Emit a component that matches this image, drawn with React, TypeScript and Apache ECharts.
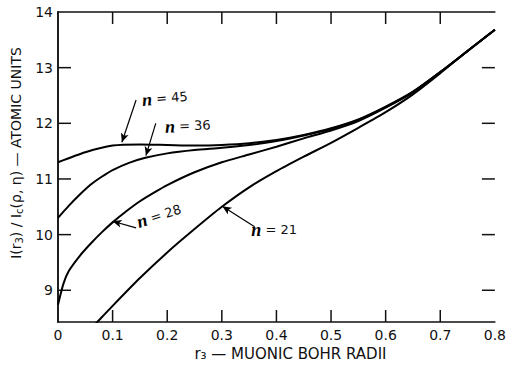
import React, { useEffect, useRef } from "react";
import * as echarts from "echarts";

// Data
const yTickLabels = [9, 10, 11, 12, 13, 14];
const xInnerTicks = [0.1, 0.2, 0.3, 0.4, 0.5, 0.6, 0.7];
const yInnerTicks = [9, 10, 11, 12, 13];
const X_MIN = 0, X_MAX = 0.8, Y_MIN = 8.43, Y_MAX = 14;

const n45: [number, number][] = [
  [0, 11.3], [0.05, 11.48], [0.1, 11.6], [0.15, 11.62], [0.2, 11.61],
  [0.25, 11.6], [0.3, 11.61], [0.35, 11.64], [0.4, 11.7], [0.45, 11.79],
  [0.5, 11.91], [0.55, 12.07], [0.6, 12.3], [0.65, 12.57], [0.7, 12.92],
  [0.75, 13.3], [0.8, 13.68],
];
const n36: [number, number][] = [
  [0, 10.3], [0.02, 10.52], [0.04, 10.72], [0.06, 10.9], [0.08, 11.04],
  [0.1, 11.16], [0.13, 11.29], [0.16, 11.38], [0.2, 11.46], [0.25, 11.52],
  [0.3, 11.56], [0.35, 11.61], [0.4, 11.68], [0.45, 11.78], [0.5, 11.9],
  [0.55, 12.06], [0.6, 12.29], [0.65, 12.56], [0.7, 12.92], [0.75, 13.3], [0.8, 13.68],
];
const n28: [number, number][] = [
  [0, 8.74], [0.01, 9.12], [0.02, 9.35], [0.04, 9.62], [0.06, 9.84],
  [0.08, 10.04], [0.1, 10.22], [0.125, 10.42], [0.15, 10.6], [0.175, 10.75],
  [0.2, 10.89], [0.25, 11.12], [0.3, 11.3], [0.35, 11.44], [0.4, 11.58],
  [0.45, 11.73], [0.5, 11.87], [0.55, 12.04], [0.6, 12.28], [0.65, 12.56],
  [0.7, 12.92], [0.75, 13.3], [0.8, 13.68],
];
const n21: [number, number][] = [
  [0.04, 8.1], [0.07, 8.41], [0.1, 8.72], [0.15, 9.22], [0.2, 9.68],
  [0.25, 10.1], [0.3, 10.5], [0.35, 10.85], [0.4, 11.14], [0.45, 11.4],
  [0.5, 11.65], [0.55, 11.92], [0.6, 12.2], [0.65, 12.52], [0.7, 12.9],
  [0.75, 13.3], [0.8, 13.68],
];

// arrows: [from, to] in data coordinates
const arrows: [[number, number], [number, number]][] = [
  [[0.143, 12.42], [0.117, 11.66]],
  [[0.179, 12.0], [0.161, 11.42]],
  [[0.143, 10.12], [0.1, 10.24]],
  [[0.36, 10.14], [0.301, 10.51]],
];

// label anchors in data coordinates, with value text and rotation
const labelNames = ["45", "36", "28", "21"];
const labelAnchors: [number, number][] = [
  [0.154, 12.42], [0.196, 11.94], [0.145, 10.22], [0.354, 10.09],
];
const labelRot = [0.08, 0.04, 0.3, 0];

export default function App() {
  const ref = useRef<HTMLDivElement>(null);
  useEffect(() => {
    if (!ref.current) return;
    const chart = echarts.init(ref.current, undefined, { renderer: "svg" });
    const mk = (name: string, data: [number, number][]) => ({
      name,
      type: "line",
      data,
      smooth: 0.25,
      showSymbol: false,
      clip: true,
      lineStyle: { color: "#000", width: 2 },
      itemStyle: { color: "#000" },
    });
    const axisText = { color: "#111", fontFamily: "DejaVu Sans", fontSize: 14 };
    const mkLine = () => ({ show: true, lineStyle: { color: "#111", width: 1.5 } });
    chart.setOption({
      animation: false,
      grid: { left: 58, right: 9, top: 12, bottom: 49 },
      xAxis: [
        {
          type: "value", min: X_MIN, max: X_MAX, interval: 0.1, position: "bottom",
          axisLine: mkLine(),
          axisTick: { show: false },
          axisLabel: {
            ...axisText, margin: 6,
            formatter: (v: number) => (v === 0 ? "0" : v.toFixed(1)),
          },
          splitLine: { show: false },
          name: "r₃ — MUONIC BOHR RADII",
          nameLocation: "middle",
          nameGap: 22,
          nameTextStyle: { color: "#111", fontFamily: "DejaVu Sans", fontSize: 15, padding: [0, 0, 0, 28] },
        },
        {
          type: "value", min: X_MIN, max: X_MAX, interval: 0.1, position: "top",
          axisLine: mkLine(),
          axisTick: { show: false },
          axisLabel: { show: false },
          splitLine: { show: false },
        },
      ],
      yAxis: [
        {
          type: "value", min: Y_MIN, max: Y_MAX, position: "left",
          axisLine: mkLine(),
          axisTick: { show: false },
          axisLabel: {
            ...axisText, margin: 5,
            formatter: (v: number) => (yTickLabels.indexOf(Math.round(v * 100) / 100) >= 0 ? String(v) : ""),
          },
          splitLine: { show: false },
          name: "{a|I(r}{s|3}{a|) / I}{s|c}{a|(ρ, η) — ATOMIC UNITS}",
          nameLocation: "middle",
          nameGap: 30,
          nameTextStyle: {
            color: "#111", fontFamily: "DejaVu Sans", fontSize: 14, padding: [0, 0, 0, 28],
            rich: {
              a: { color: "#111", fontFamily: "DejaVu Sans", fontSize: 14 },
              s: { color: "#111", fontFamily: "DejaVu Sans", fontSize: 10, padding: [7, 0, 0, 0] },
            },
          },
        },
        {
          type: "value", min: Y_MIN, max: Y_MAX, position: "right",
          axisLine: mkLine(),
          axisTick: { show: false },
          axisLabel: { show: false },
          splitLine: { show: false },
        },
      ],
      series: [
        {
          ...mk("n = 45", n45),
          markLine: {
            silent: true,
            symbol: ["none", "arrow"],
            symbolSize: [6, 9],
            label: { show: false },
            lineStyle: { color: "#000", width: 1.2, type: "solid" },
            data: arrows.map(([a, b]) => [{ coord: a }, { coord: b }]),
          },
        },
        mk("n = 36", n36),
        mk("n = 28", n28),
        mk("n = 21", n21),
      ],
    });
    const px = (v: [number, number]) => chart.convertToPixel({ gridIndex: 0 }, v) as number[];
    const graphics: any[] = labelNames.map((t, i) => {
      const p = px(labelAnchors[i]);
      return {
        type: "text",
        x: p[0],
        y: p[1],
        rotation: labelRot[i],
        style: {
          text: "{n|n}{t| = " + t + "}",
          verticalAlign: "middle",
          align: "left",
          rich: {
            n: { fontFamily: "Liberation Serif", fontStyle: "italic", fontWeight: "bold", fontSize: 18, fill: "#000" },
            t: { fontFamily: "DejaVu Sans", fontSize: 13, fill: "#111" },
          },
        },
      };
    });
    const tickStyle = { stroke: "#111", lineWidth: 1.5 };
    xInnerTicks.forEach((x) => {
      const b = px([x, Y_MIN]);
      const t = px([x, Y_MAX]);
      graphics.push({ type: "line", silent: true, shape: { x1: b[0], y1: b[1], x2: b[0], y2: b[1] - 12 }, style: tickStyle });
      graphics.push({ type: "line", silent: true, shape: { x1: t[0], y1: t[1], x2: t[0], y2: t[1] + 12 }, style: tickStyle });
    });
    yInnerTicks.forEach((y) => {
      const l = px([X_MIN, y]);
      const r = px([X_MAX, y]);
      graphics.push({ type: "line", silent: true, shape: { x1: l[0], y1: l[1], x2: l[0] + 13, y2: l[1] }, style: tickStyle });
      graphics.push({ type: "line", silent: true, shape: { x1: r[0], y1: r[1], x2: r[0] - 13, y2: r[1] }, style: tickStyle });
    });
    chart.setOption({ graphic: graphics });
    return () => chart.dispose();
  }, []);
  return (
    <div
      ref={ref}
      style={{ position: "fixed", left: 0, top: 0, width: 509, height: 371, background: "#fff" }}
    />
  );
}
